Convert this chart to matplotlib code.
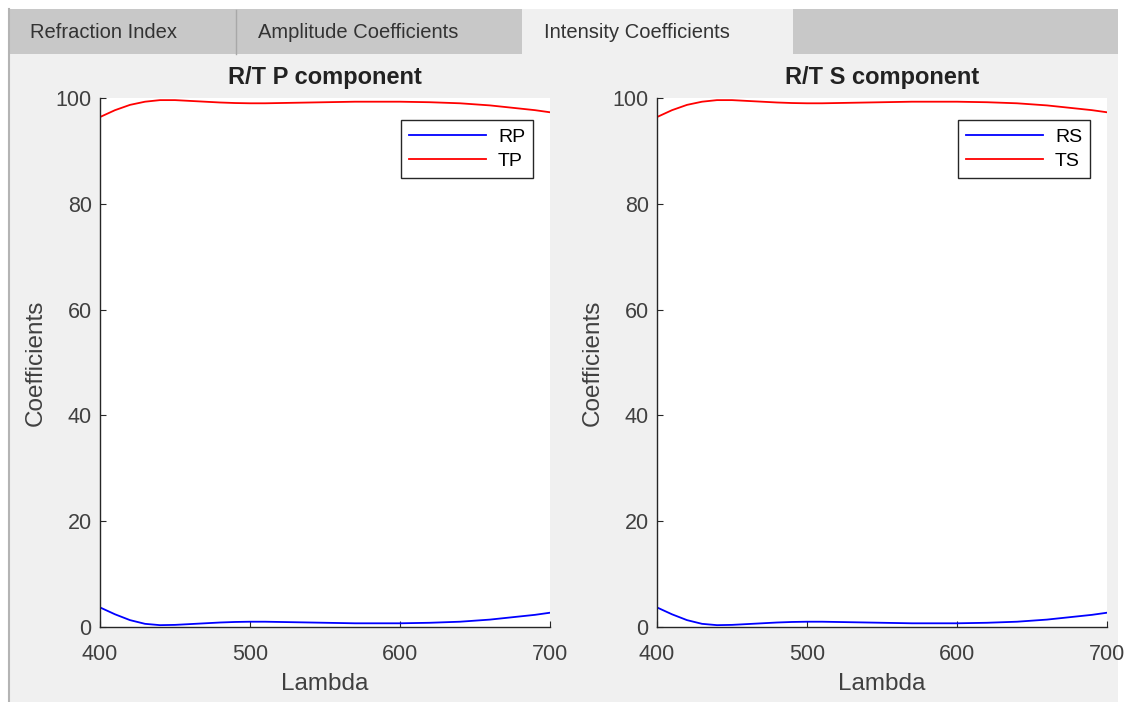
import matplotlib.pyplot as plt
from matplotlib.patches import Rectangle
from matplotlib.lines import Line2D

plt.rcParams["font.family"] = ["Liberation Sans", "DejaVu Sans"]

# wavelength grid (nm) and intensity coefficients (%)
lambda_nm = [400, 410, 420, 430, 440, 450, 460, 470, 480, 490, 500,
             510, 520, 530, 540, 550, 560, 570, 580, 590, 600,
             610, 620, 630, 640, 650, 660, 670, 680, 690, 700]
r_p = [3.7, 2.4, 1.3, 0.6, 0.35, 0.4, 0.55, 0.7, 0.85, 0.95, 1.0,
       1.0, 0.95, 0.9, 0.85, 0.8, 0.75, 0.7, 0.7, 0.7, 0.7,
       0.75, 0.8, 0.9, 1.0, 1.2, 1.4, 1.7, 2.0, 2.3, 2.7]
t_p = [96.4, 97.7, 98.7, 99.3, 99.6, 99.6, 99.45, 99.3, 99.15, 99.05, 99.0,
       99.0, 99.05, 99.1, 99.15, 99.2, 99.25, 99.3, 99.3, 99.3, 99.3,
       99.25, 99.2, 99.1, 99.0, 98.8, 98.6, 98.3, 98.0, 97.7, 97.3]
r_s = list(r_p)
t_s = list(t_p)

tab_labels = ["Refraction Index", "Amplitude Coefficients", "Intensity Coefficients"]
selected_tab = 2

W, H = 1127, 702
PANEL = "#f0f0f0"
TABBAR = "#c8c8c8"
TXT = "#262626"


def px_rect(x0, y0, x1, y1):
    # screen pixel box (top-left origin) -> figure fraction rect
    return (x0 / W, 1 - y1 / H, (x1 - x0) / W, (y1 - y0) / H)


def add_box(fig, x0, y0, x1, y1, col):
    r = px_rect(x0, y0, x1, y1)
    fig.patches.append(Rectangle(r[:2], *r[2:], transform=fig.transFigure,
                                 facecolor=col, edgecolor="none", zorder=-5))


fig = plt.figure(figsize=(W / 100, H / 100), dpi=100)
fig.patch.set_facecolor("white")

# panel + tab strip
add_box(fig, 8, 54, 1118, 702, PANEL)
add_box(fig, 8, 9, 1118, 54, TABBAR)
fig.add_artist(Line2D([9 / W, 9 / W], [0, 1 - 9 / H], transform=fig.transFigure,
                      color="#b4b4b4", lw=1.5, zorder=-4))

tab_edges = [8, 236, 522, 793]
for i, lab in enumerate(tab_labels):
    x0, x1 = tab_edges[i], tab_edges[i + 1]
    if i == selected_tab:
        add_box(fig, x0, 9, x1, 56, PANEL)
    elif i > 0:
        fig.add_artist(Line2D([x0 / W, x0 / W], [1 - 54 / H, 1 - 10 / H], transform=fig.transFigure,
                              color="#a8a8a8", lw=1, zorder=-4))
    fig.text((x0 + 22) / W, 1 - 32 / H, lab, ha="left", va="center", fontsize=14.5, color="#333333")


def draw_panel(ax, title, x, r, t, names):
    ax.set_zorder(2)
    ax.plot(x, r, color="#0000ff", lw=1.3, label=names[0])
    ax.plot(x, t, color="#ff0000", lw=1.3, label=names[1])
    ax.set_xlim(400, 700)
    ax.set_ylim(0, 100)
    ax.set_xticks([400, 500, 600, 700])
    ax.set_yticks([0, 20, 40, 60, 80, 100])
    ax.set_facecolor("white")
    for s in ("top", "right"):
        ax.spines[s].set_visible(False)
    for s in ("left", "bottom"):
        ax.spines[s].set_color(TXT)
        ax.spines[s].set_linewidth(1.0)
    ax.tick_params(direction="in", length=4, width=0.8, colors=TXT, labelsize=15.5, labelcolor="#404040")
    ax.tick_params(axis="x", pad=12)
    ax.tick_params(axis="y", pad=6)
    ax.set_title(title, fontsize=17, fontweight="bold", color="#222222", pad=10)
    ax.set_xlabel("Lambda", fontsize=17.5, color="#404040", labelpad=6)
    ax.set_ylabel("Coefficients", fontsize=17.5, color="#404040", labelpad=6)
    leg = ax.legend(loc="upper right", bbox_to_anchor=(0.962, 0.958), fontsize=14,
                    handlelength=4.0, fancybox=False, framealpha=1, edgecolor="#262626",
                    borderpad=0.4, labelspacing=0.35, handletextpad=0.6, borderaxespad=0)
    leg.get_frame().set_linewidth(1.0)


ax1 = fig.add_axes([100 / W, 75 / H, 450 / W, 529 / H])
ax2 = fig.add_axes([657 / W, 75 / H, 450 / W, 529 / H])
draw_panel(ax1, "R/T P component", lambda_nm, r_p, t_p, ("RP", "TP"))
draw_panel(ax2, "R/T S component", lambda_nm, r_s, t_s, ("RS", "TS"))

fig.savefig("out.png", dpi=100, facecolor=fig.get_facecolor())
plt.close(fig)
